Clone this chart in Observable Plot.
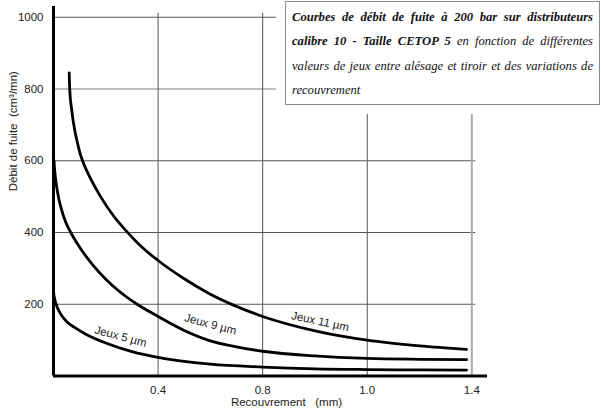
<!DOCTYPE html>
<html>
<head>
<meta charset="utf-8">
<script src="https://cdn.jsdelivr.net/npm/d3@7"></script>
<script src="https://cdn.jsdelivr.net/npm/@observablehq/plot@0.6"></script>
<style>
  html, body { margin: 0; padding: 0; background: #fff; }
  #wrap { position: relative; width: 601px; height: 412px; overflow: hidden; }
  #title {
    position: absolute; left: 285px; top: 1px; width: 301px; height: 96px;
    border: 1px solid #8a8a8a; background: #fff;
    box-shadow: 0 0 0 9px #fff;
    padding: 3px 6px 3px 6px;
    font-family: "Liberation Serif", "Times New Roman", serif;
    font-style: italic; font-size: 12.6px; line-height: 24.3px; color: #111;
  }
  #title .ln { white-space: nowrap; text-align: justify; text-align-last: justify; }
  #title .ln.last { text-align-last: left; }
  #title b { font-weight: bold; }
</style>
</head>
<body>
<div id="wrap">
  <div id="chart"></div>
  <div id="title">
    <div class="ln"><b>Courbes de débit de fuite à 200 bar sur distributeurs</b></div>
    <div class="ln"><b>calibre 10 - Taille CETOP 5</b> en fonction de différentes</div>
    <div class="ln">valeurs de jeux entre alésage et tiroir et des variations de</div>
    <div class="ln last">recouvrement</div>
  </div>
</div>
<script>
// Curve data (x in axis position units, y in cm3/mn)
const x5  = [0, 0.003, 0.008, 0.015, 0.03, 0.05, 0.079, 0.12, 0.2, 0.3, 0.4, 0.5, 0.6, 0.8, 1.0, 1.2, 1.4, 1.58];
const y5  = [235, 220, 205, 190, 170, 152, 136, 118, 92, 68, 52, 41, 33, 25, 20, 18, 17, 16.5];
const x9  = [0.002, 0.005, 0.01, 0.02, 0.03, 0.045, 0.066, 0.1, 0.15, 0.2, 0.25, 0.32, 0.4, 0.5, 0.6, 0.7, 0.8, 1.0, 1.2, 1.4, 1.58];
const y9  = [600, 570, 538, 495, 466, 432, 400, 359, 310, 270, 237, 200, 166, 127, 98, 81, 69, 56, 49, 46.5, 45.5];
const x11 = [0.06, 0.062, 0.07, 0.08, 0.09, 0.1, 0.111, 0.14, 0.18, 0.23, 0.285, 0.34, 0.4, 0.5, 0.6, 0.684, 0.8, 1.0, 1.2, 1.4, 1.58];
const y11 = [845, 800, 740, 690, 655, 625, 600, 553, 500, 446, 399, 358, 322, 271, 228, 199, 166, 126, 100, 84, 74];

const seriesNames = ["Jeux 5 µm", "Jeux 9 µm", "Jeux 11 µm"];
const labelX = [0.257, 0.60, 1.02];
const labelY = [110, 144, 152];
const labelAngle = [15, 15, 12];

const xTickPos = [0.4, 0.8, 1.2, 1.6];
const xTickLabels = ["0.4", "0.8", "1.0", "1.4"];
const yTicks = [200, 400, 600, 800, 1000];
const yGridDark = [200, 400, 600, 1000];
const yGridLight = [800];
const xGridDark = [0.4, 0.8, 1.2];
const xGridLight = [1.6];

const xTitle = "Recouvrement\u00a0\u00a0\u00a0(mm)";
const yTitle = "Débit de fuite\u00a0\u00a0(cm³/mn)";

const rows = [];
[[x5, y5], [x9, y9], [x11, y11]].forEach(([xs, ys], i) => {
  xs.forEach((x, j) => rows.push({x, y: ys[j], s: seriesNames[i]}));
});
const labels = seriesNames.map((t, i) => ({t, x: labelX[i], y: labelY[i], r: labelAngle[i]}));

const chart = Plot.plot({
  width: 601,
  height: 412,
  marginLeft: 53,
  marginRight: 114,
  marginTop: 6,
  marginBottom: 36.5,
  style: {fontFamily: "'Liberation Sans', Arial, sans-serif", fontSize: "11.5px", color: "#222", background: "#fff"},
  x: {domain: [0, 1.66], ticks: xTickPos, tickFormat: d => xTickLabels[xTickPos.indexOf(d)], tickSize: 0, tickPadding: 10, label: null},
  y: {domain: [0, 1030], ticks: yTicks, tickFormat: d => String(d), tickSize: 0, tickPadding: 10, label: null},
  marks: [
    Plot.ruleY(yGridDark, {x1: 0, x2: 1.615, stroke: "#555", strokeWidth: 1}),
    Plot.ruleY(yGridLight, {x1: 0, x2: 1.615, stroke: "#bdbdbd", strokeWidth: 2.2}),
    Plot.ruleX(xGridDark, {y1: 0, y2: 1011, stroke: "#555", strokeWidth: 1}),
    Plot.ruleX(xGridLight, {y1: 0, y2: 1011, stroke: "#aaa", strokeWidth: 2}),
    Plot.line(rows, {x: "x", y: "y", z: "s", curve: "monotone-x", stroke: "#000", strokeWidth: 2.8}),
    Plot.text(labels, {x: "x", y: "y", text: "t", rotate: "r", fill: "#222", fontSize: 11.5}),
    Plot.ruleX([0], {stroke: "#000", strokeWidth: 3}),
    Plot.ruleY([0], {stroke: "#000", strokeWidth: 3}),
    Plot.text([xTitle], {frameAnchor: "bottom", dx: 16, dy: 30, fill: "#222", fontSize: 11.5}),
    Plot.text([yTitle], {frameAnchor: "left", dx: -40, rotate: -90, fill: "#222", fontSize: 11.5})
  ]
});
document.getElementById("chart").appendChild(chart);
</script>
</body>
</html>
